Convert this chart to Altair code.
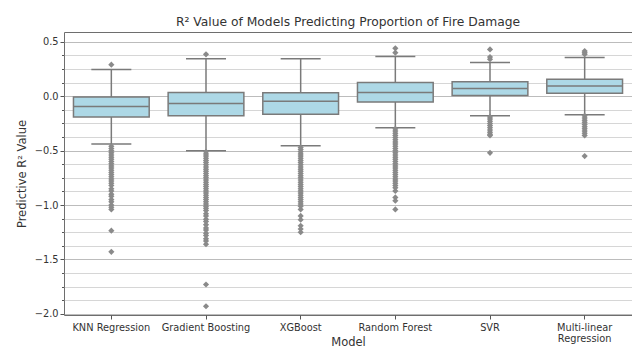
import altair as alt
import pandas as pd

models = ["KNN Regression", "Gradient Boosting", "XGBoost", "Random Forest", "SVR",
          "Multi-linear Regression"]
q1 = [-0.19, -0.18, -0.165, -0.052, 0.006, 0.027]
median = [-0.095, -0.067, -0.047, 0.034, 0.07, 0.094]
q3 = [-0.008, 0.034, 0.032, 0.126, 0.133, 0.156]
whisker_low = [-0.44, -0.50, -0.456, -0.29, -0.18, -0.17]
whisker_high = [0.245, 0.345, 0.345, 0.364, 0.31, 0.355]

out_knn = [0.29, -0.46, -0.48, -0.50, -0.52, -0.54, -0.56, -0.58, -0.60, -0.62, -0.64, -0.66,
           -0.68, -0.70, -0.72, -0.74, -0.76, -0.78, -0.80, -0.82, -0.85, -0.87, -0.90, -0.92,
           -0.95, -0.97, -1.00, -1.02, -1.04, -1.235, -1.43]
out_gb = [0.385, -0.51, -0.53, -0.55, -0.57, -0.59, -0.61, -0.63, -0.65, -0.67, -0.69, -0.71,
          -0.73, -0.75, -0.77, -0.79, -0.81, -0.83, -0.85, -0.87, -0.89, -0.91, -0.93, -0.95,
          -0.97, -0.99, -1.01, -1.03, -1.05, -1.08, -1.10, -1.13, -1.15, -1.18, -1.21, -1.23,
          -1.26, -1.28, -1.31, -1.33, -1.36, -1.73, -1.93]
out_xgb = [-0.47, -0.49, -0.51, -0.53, -0.55, -0.57, -0.59, -0.61, -0.63, -0.65, -0.67, -0.69,
           -0.71, -0.73, -0.75, -0.77, -0.79, -0.81, -0.83, -0.85, -0.87, -0.89, -0.91, -0.93,
           -0.95, -0.97, -0.99, -1.01, -1.04, -1.10, -1.135, -1.19, -1.22, -1.25]
out_rf = [0.40, 0.44, -0.30, -0.32, -0.34, -0.36, -0.38, -0.40, -0.42, -0.44, -0.46, -0.48,
          -0.50, -0.52, -0.54, -0.56, -0.58, -0.60, -0.62, -0.64, -0.66, -0.68, -0.70, -0.72,
          -0.74, -0.76, -0.78, -0.80, -0.82, -0.84, -0.87, -0.93, -0.96, -1.04]
out_svr = [0.34, 0.36, 0.43, -0.19, -0.21, -0.23, -0.25, -0.27, -0.29, -0.31, -0.33, -0.35,
           -0.36, -0.52]
out_mlr = [0.385, 0.40, 0.415, -0.18, -0.20, -0.22, -0.24, -0.26, -0.28, -0.30, -0.32, -0.34,
           -0.36, -0.55]
outliers = [out_knn, out_gb, out_xgb, out_rf, out_svr, out_mlr]

box_df = pd.DataFrame({"model": models, "q1": q1, "median": median, "q3": q3,
                       "lo": whisker_low, "hi": whisker_high})
out_df = pd.DataFrame([{"model": m, "value": v} for m, vals in zip(models, outliers) for v in vals])

FONT = "DejaVu Sans"
EDGE = "#7a7a7a"
FILL = "#add8e6"

major = "abs(datum.value * 2 - round(datum.value * 2)) < 0.000001"

x_enc = alt.X("model:N", sort=models, title="Model",
              scale=alt.Scale(type="band", paddingInner=0, paddingOuter=0),
              axis=alt.Axis(labelAngle=0, domain=False, tickSize=4, tickColor="#555",
                            labelFont=FONT, labelFontSize=9.8, labelColor="#333",
                            labelPadding=3, titleFont=FONT, titleFontSize=11.5,
                            titleFontWeight="normal", titleColor="#333", titleY=32,
                            titleBaseline="bottom",
                            labelExpr="datum.value == 'Multi-linear Regression' ? ['Multi-linear', 'Regression'] : datum.value"))

y_scale = alt.Scale(domain=[-2.01, 0.59], nice=False, zero=False)
y_axis = alt.Axis(values=[0.5 - 0.125 * i for i in range(21)],
                  labelExpr=f"{major} ? format(datum.value, '.1f') : ''",
                  domain=False, tickColor="#555",
                  tickSize={"condition": {"test": major, "value": 4}, "value": 2.5},
                  gridColor={"condition": {"test": major, "value": "#bcbcbc"}, "value": "#d6d6d6"},
                  gridWidth=1, labelFont=FONT, labelFontSize=9.8, labelColor="#333",
                  labelPadding=2, titleFont=FONT, titleFontSize=11.5, titleFontWeight="normal",
                  titleColor="#333", titlePadding=7)

def yenc(field):
    return alt.Y(f"{field}:Q", scale=y_scale, axis=y_axis, title="Predictive R² Value")

base = alt.Chart(box_df)

whisk_low = base.mark_rule(color=EDGE, strokeWidth=1.5).encode(x=x_enc, y=yenc("lo"), y2="q1")
whisk_high = base.mark_rule(color=EDGE, strokeWidth=1.5).encode(x=x_enc, y=yenc("q3"), y2="hi")
boxes = base.mark_bar(width=alt.RelativeBandSize(0.8), fill=FILL, stroke=EDGE,
                      strokeWidth=1.5).encode(x=x_enc, y=yenc("q1"), y2="q3")
med = base.mark_tick(orient="horizontal", size=75, thickness=1.5, color=EDGE,
                     opacity=1).encode(x=x_enc, y=yenc("median"))
cap_lo = base.mark_tick(orient="horizontal", size=40, thickness=1.5, color=EDGE,
                        opacity=1).encode(x=x_enc, y=yenc("lo"))
cap_hi = base.mark_tick(orient="horizontal", size=40, thickness=1.5, color=EDGE,
                        opacity=1).encode(x=x_enc, y=yenc("hi"))
pts = alt.Chart(out_df).mark_point(shape="diamond", filled=True, size=38, color="#8a8a8a",
                                   opacity=1).encode(x=x_enc, y=yenc("value"))

chart = alt.layer(whisk_low, whisk_high, boxes, med, cap_lo, cap_hi, pts).properties(
    width=568, height=283,
    autosize=alt.AutoSizeParams(type="none"),
    padding={"left": 56, "top": 24, "right": 0, "bottom": 33},
    title=alt.Title("R² Value of Models Predicting Proportion of Fire Damage",
                    font=FONT, fontSize=12.3, fontWeight="normal", color="#333", offset=4),
).configure_view(stroke="#6e6e6e", strokeWidth=1).configure_axis(grid=True)

chart = chart.configure_axisX(grid=False)

chart.save("out.html", embed_options={"renderer": "svg", "actions": False})
